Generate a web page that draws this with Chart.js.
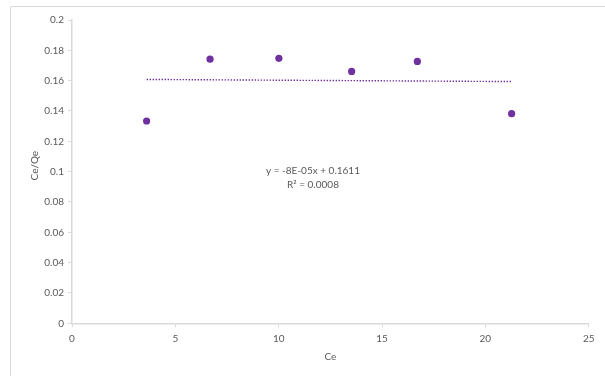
<!DOCTYPE html>
<html>
<head>
<meta charset="utf-8">
<script src="https://cdn.jsdelivr.net/npm/chart.js@4/dist/chart.umd.min.js"></script>
<style>
  html, body { margin: 0; padding: 0; background: #ffffff; }
  #wrap { width: 605px; height: 376px; position: relative; }
</style>
</head>
<body>
<div id="wrap"><canvas id="c" width="605" height="376"></canvas></div>
<script>
// Measured equilibrium concentrations (Ce) and Ce/Qe ratios
const ceValues = [3.61, 6.68, 10.01, 13.53, 16.71, 21.27];
const ceQeValues = [0.1334, 0.1742, 0.1747, 0.1661, 0.1727, 0.1382];

// Linear trendline as reported: y = slope * x + intercept
const trendSlope = -0.00008;
const trendIntercept = 0.1611;
const trendRange = [3.61, 21.27];
const trendLabels = ['y = -8E-05x + 0.1611', 'R\u00B2 = 0.0008'];

// Axis ticks
const xTickValues = [0, 5, 10, 15, 20, 25];
const yTickLabels = ['0', '0.02', '0.04', '0.06', '0.08', '0.1', '0.12', '0.14', '0.16', '0.18', '0.2'];

const axisTitles = { x: 'Ce', y: 'Ce/Qe' };

const purple = '#7030A0';
const axisGrey = '#d9d9d9';
const textGrey = '#595959';
const fontFamily = 'Lato, "Liberation Sans", sans-serif';

const trendPoints = trendRange.map(x => ({ x: x, y: trendSlope * x + trendIntercept }));
const scatterPoints = ceValues.map((x, i) => ({ x: x, y: ceQeValues[i] }));

const decorations = {
  id: 'decorations',
  beforeDraw(chart) {
    const ctx = chart.ctx;
    ctx.save();
    ctx.fillStyle = '#ffffff';
    ctx.fillRect(0, 0, chart.width, chart.height);
    ctx.strokeStyle = axisGrey;
    ctx.lineWidth = 1;
    ctx.beginPath();
    ctx.moveTo(10.5, chart.height);
    ctx.lineTo(10.5, 6.5);
    ctx.lineTo(chart.width, 6.5);
    ctx.stroke();
    ctx.restore();
  },
  afterDraw(chart) {
    const ctx = chart.ctx;
    const xs = chart.scales.x, ys = chart.scales.y;
    const area = chart.chartArea;
    ctx.save();
    ctx.fillStyle = textGrey;
    ctx.textAlign = 'center';
    ctx.textBaseline = 'middle';
    ctx.font = '10px ' + fontFamily;
    // trendline equation
    const ex = xs.getPixelForValue(11.66);
    ctx.fillText(trendLabels[0], ex, ys.getPixelForValue(0.1004));
    ctx.fillText(trendLabels[1], ex, ys.getPixelForValue(0.0912));
    // axis titles
    ctx.fillText(axisTitles.x, (area.left + area.right) / 2 + 0, area.bottom + 33);
    ctx.translate(35, (area.top + area.bottom) / 2 - 6);
    ctx.rotate(-Math.PI / 2);
    ctx.fillText(axisTitles.y, 0, 0);
    ctx.restore();
  }
};

new Chart(document.getElementById('c'), {
  type: 'scatter',
  data: {
    datasets: [
      {
        label: 'Ce/Qe',
        data: scatterPoints,
        backgroundColor: purple,
        borderColor: purple,
        pointRadius: 3.6,
        pointHoverRadius: 3.6,
        borderWidth: 0,
        order: 1
      },
      {
        label: 'Linear trend',
        type: 'line',
        data: trendPoints,
        borderColor: purple,
        borderWidth: 1.4,
        borderDash: [1.4, 1.6],
        pointRadius: 0,
        fill: false,
        order: 2
      }
    ]
  },
  options: {
    responsive: false,
    animation: false,
    devicePixelRatio: 1,
    layout: { padding: { top: 20, right: 16.3, bottom: 0, left: 0 } },
    plugins: { legend: { display: false }, tooltip: { enabled: false } },
    scales: {
      x: {
        type: 'linear',
        min: 0, max: 25,
        afterBuildTicks(scale) { scale.ticks = xTickValues.map(v => ({ value: v })); },
        afterFit(scale) { scale.height = 52.7; },
        grid: { display: true, drawOnChartArea: false, drawTicks: true, tickLength: 4, color: axisGrey },
        border: { display: true, color: axisGrey, width: 1.5 },
        ticks: { color: textGrey, padding: 5, font: { family: fontFamily, size: 10 }, maxRotation: 0 }
      },
      y: {
        type: 'linear',
        min: 0, max: 0.2,
        afterBuildTicks(scale) { scale.ticks = yTickLabels.map(s => ({ value: parseFloat(s) })); },
        afterFit(scale) { scale.width = 72; },
        grid: { display: true, drawOnChartArea: false, drawTicks: true, tickLength: 4, color: axisGrey },
        border: { display: true, color: axisGrey, width: 1.5 },
        ticks: {
          color: textGrey, padding: 4, font: { family: fontFamily, size: 10 },
          callback: (v, i) => yTickLabels[i]
        }
      }
    }
  },
  plugins: [decorations]
});
</script>
</body>
</html>
